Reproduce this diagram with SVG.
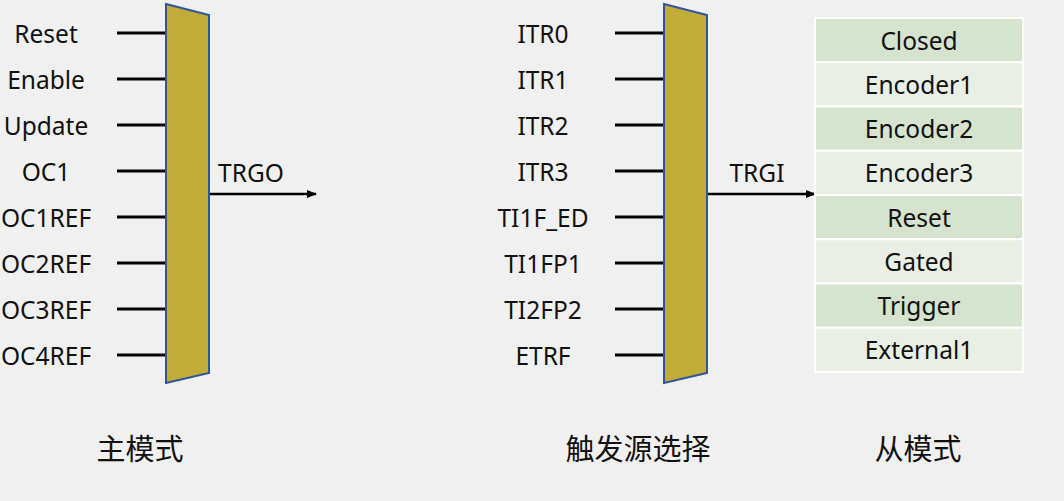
<svg xmlns="http://www.w3.org/2000/svg" width="1064" height="501" viewBox="0 0 1064 501">
<style>
.t{font-family:"Noto Sans","Liberation Sans",sans-serif;font-size:24.5px;fill:#111;text-anchor:middle}
.c{font-family:"Noto Sans CJK SC","Noto Sans",sans-serif;font-size:29px;fill:#111;text-anchor:middle}
.in{stroke:#000;stroke-width:3}
.mux{fill:#C0AC38;stroke:#2F5597;stroke-width:2}
.dk{fill:#D6E3CF;stroke:#fff;stroke-width:2}
.lt{fill:#E9EFE4;stroke:#fff;stroke-width:2}
</style>
<defs>
<marker id="ah" markerWidth="10" markerHeight="8" refX="9" refY="4" orient="auto" markerUnits="userSpaceOnUse">
<path d="M0,0 L10,4 L0,8 z" fill="#000"/>
</marker>
</defs>
<rect width="1064" height="501" fill="#F0F0F0"/>
<g id="connectors">
<g class="in">
<line x1="117" y1="33" x2="166" y2="33"/>
<line x1="117" y1="79" x2="166" y2="79"/>
<line x1="117" y1="125" x2="166" y2="125"/>
<line x1="117" y1="171" x2="166" y2="171"/>
<line x1="117" y1="217" x2="166" y2="217"/>
<line x1="117" y1="263" x2="166" y2="263"/>
<line x1="117" y1="309" x2="166" y2="309"/>
<line x1="117" y1="355" x2="166" y2="355"/>
<line x1="615" y1="33" x2="664" y2="33"/>
<line x1="615" y1="79" x2="664" y2="79"/>
<line x1="615" y1="125" x2="664" y2="125"/>
<line x1="615" y1="171" x2="664" y2="171"/>
<line x1="615" y1="217" x2="664" y2="217"/>
<line x1="615" y1="263" x2="664" y2="263"/>
<line x1="615" y1="309" x2="664" y2="309"/>
<line x1="615" y1="355" x2="664" y2="355"/>
</g>
<line x1="209" y1="194" x2="316" y2="194" stroke="#000" stroke-width="2.5" marker-end="url(#ah)"/>
<line x1="707" y1="194" x2="815" y2="194" stroke="#000" stroke-width="2.5" marker-end="url(#ah)"/>
</g>
<g id="master-inputs">
<text class="t" x="46" y="43">Reset</text>
<text class="t" x="46" y="89">Enable</text>
<text class="t" x="46" y="135">Update</text>
<text class="t" x="46" y="181">OC1</text>
<text class="t" x="46" y="227">OC1REF</text>
<text class="t" x="46" y="273">OC2REF</text>
<text class="t" x="46" y="319">OC3REF</text>
<text class="t" x="46" y="365">OC4REF</text>
</g>
<g id="master-mux">
<polygon class="mux" points="166,4 209,15 209,373 166,383"/>
<text class="t" x="251" y="182">TRGO</text>
</g>
<g id="trigger-inputs">
<text class="t" x="543" y="43">ITR0</text>
<text class="t" x="543" y="89">ITR1</text>
<text class="t" x="543" y="135">ITR2</text>
<text class="t" x="543" y="181">ITR3</text>
<text class="t" x="543" y="227">TI1F_ED</text>
<text class="t" x="543" y="273">TI1FP1</text>
<text class="t" x="543" y="319">TI2FP2</text>
<text class="t" x="543" y="365">ETRF</text>
</g>
<g id="trigger-mux">
<polygon class="mux" points="664,4 707,15 707,373 664,383"/>
<text class="t" x="757" y="182">TRGI</text>
</g>
<g id="slave-modes">
<rect class="dk" x="815" y="18" width="208" height="44.25"/>
<rect class="lt" x="815" y="62.25" width="208" height="44.25"/>
<rect class="dk" x="815" y="106.5" width="208" height="44.25"/>
<rect class="lt" x="815" y="150.75" width="208" height="44.25"/>
<rect class="dk" x="815" y="195" width="208" height="44.25"/>
<rect class="lt" x="815" y="239.25" width="208" height="44.25"/>
<rect class="dk" x="815" y="283.5" width="208" height="44.25"/>
<rect class="lt" x="815" y="327.75" width="208" height="44.25"/>
<text class="t" x="919" y="50">Closed</text>
<text class="t" x="919" y="94">Encoder1</text>
<text class="t" x="919" y="138">Encoder2</text>
<text class="t" x="919" y="182">Encoder3</text>
<text class="t" x="919" y="227">Reset</text>
<text class="t" x="919" y="271">Gated</text>
<text class="t" x="919" y="315">Trigger</text>
<text class="t" x="919" y="359">External1</text>
</g>
<g id="captions">
<text class="c" x="140" y="460">主模式</text>
<text class="c" x="638" y="460">触发源选择</text>
<text class="c" x="918" y="460">从模式</text>
</g>
</svg>
